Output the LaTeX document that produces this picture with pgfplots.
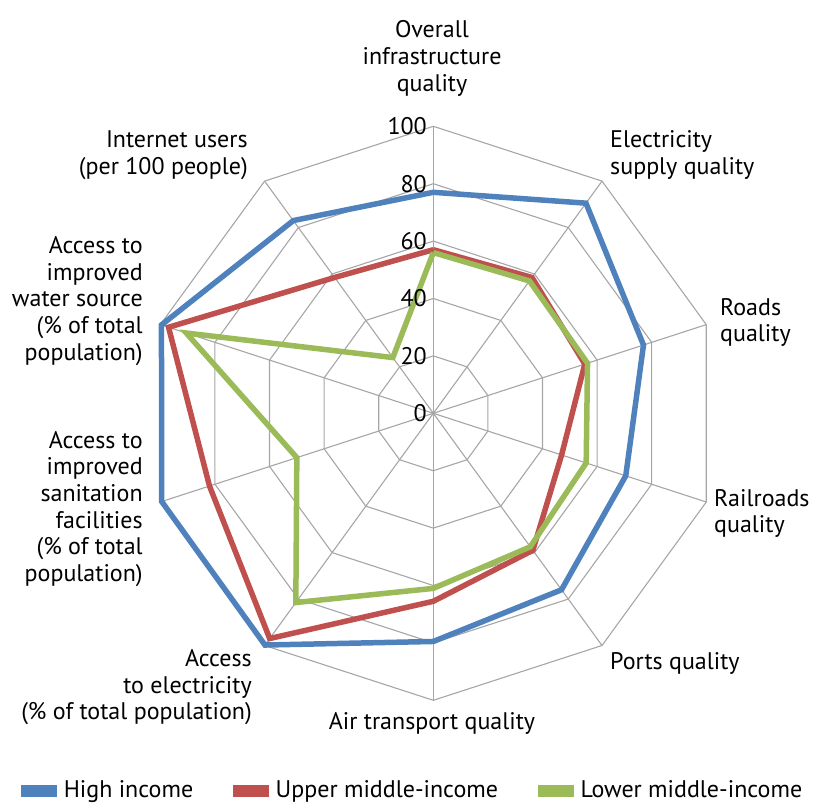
\documentclass[border=0pt]{standalone}
\usepackage{pgfplots}
\pgfplotsset{compat=1.18}
\usepackage{fontspec}
\setmainfont{PT Sans}
\definecolor{cblue}{HTML}{4F81BD}
\definecolor{cred}{HTML}{C0504D}
\definecolor{cgreen}{HTML}{9BBB59}
\definecolor{cgrid}{HTML}{A6A6A6}
\begin{document}
\fontsize{24}{26.7}\selectfont
\begin{tikzpicture}
\begin{axis}[
  x=2.87pt, y=2.87pt,
  xmin=-150.98, xmax=133.34, ymin=-136.83, ymax=144.01,
  hide axis, clip=false,
  legend columns=3,
  legend style={at={(axis cs:-7.5,-131.6)}, anchor=center, draw=none, fill=none,
    nodes={inner sep=0pt},
    /tikz/every even column/.append style={column sep=40pt},
    /tikz/every odd column/.append style={column sep=7pt},
    font=\fontsize{24}{26.7}\selectfont},
  legend image code/.code={\draw[#1, line width=6.5pt, line cap=round] (3.25pt,0pt) -- (26.75pt,0pt);\path (0pt,-3pt) rectangle (30pt,3pt);},
]
\path (axis cs:-150.98,-136.83) rectangle (axis cs:133.34,144.01);
% spokes
\pgfplotsinvokeforeach{90,54,18,-18,-54,-90,-126,-162,162,126}{
  \addplot[cgrid, line width=1.1pt, no markers, forget plot, data cs=polar] coordinates {(#1,0) (#1,100)};
}
% rings
\pgfplotsinvokeforeach{20,40,60,80,100}{
  \addplot[cgrid, line width=1.1pt, no markers, forget plot, data cs=polar] coordinates {(90,#1) (54,#1) (18,#1) (-18,#1) (-54,#1) (-90,#1) (-126,#1) (-162,#1) (162,#1) (126,#1) (90,#1)};
}
% series
\addplot[cblue, line width=5.5pt, no markers, line join=miter, data cs=polar] coordinates {
 (90,77) (54,90.5) (18,77) (-18,70.5) (-54,76) (-90,79.5) (-126,99.8) (-162,99.5) (162,99.6) (126,83) (90,77)};
\addlegendentry{High income}
\addplot[cred, line width=5.5pt, no markers, line join=miter, data cs=polar] coordinates {
 (90,57) (54,58.5) (18,55.5) (-18,47) (-54,59) (-90,65.5) (-126,97) (-162,82) (162,97) (126,58.5) (90,57)};
\addlegendentry{Upper middle-income}
\addplot[cgreen, line width=5.5pt, no markers, line join=miter, data cs=polar] coordinates {
 (90,56) (54,57) (18,56.5) (-18,56) (-54,57.5) (-90,61) (-126,81.5) (-162,50) (162,90.5) (126,24) (90,56)};
\addlegendentry{Lower middle-income}
% tick labels
\pgfplotsinvokeforeach{0,20,40,60,80,100}{
  \node[anchor=east, inner sep=0pt] at (axis cs:-2.2,#1) {#1};
}
% category labels
\node[align=center, inner sep=0pt] at (axis cs:-0.45,123.6) {Overall\\infrastructure\\quality};
\node[anchor=west, align=left, inner sep=0pt] at (axis cs:61.57,90.0) {Electricity\\supply quality};
\node[anchor=west, align=left, inner sep=0pt] at (axis cs:99.9,31.6) {Roads\\quality};
\node[anchor=west, align=left, inner sep=0pt] at (axis cs:97.8,-34.9) {Railroads\\quality};
\node[anchor=west, inner sep=0pt] at (axis cs:61.57,-87.0) {Ports quality};
\node[inner sep=0pt] at (axis cs:-0.45,-107.9) {Air transport quality};
\node[anchor=east, align=right, inner sep=0pt] at (axis cs:-63.2,-95.5) {Access\\to electricity\\(\% of total population)};
\node[anchor=east, align=right, inner sep=0pt] at (axis cs:-101.2,-33.3) {Access to\\improved\\sanitation\\facilities\\(\% of total\\population)};
\node[anchor=east, align=right, inner sep=0pt] at (axis cs:-101.2,39.1) {Access to\\improved\\water source\\(\% of total\\population)};
\node[anchor=east, align=right, inner sep=0pt] at (axis cs:-64.6,90.0) {Internet users\\(per 100 people)};
\end{axis}
\end{tikzpicture}
\end{document}
